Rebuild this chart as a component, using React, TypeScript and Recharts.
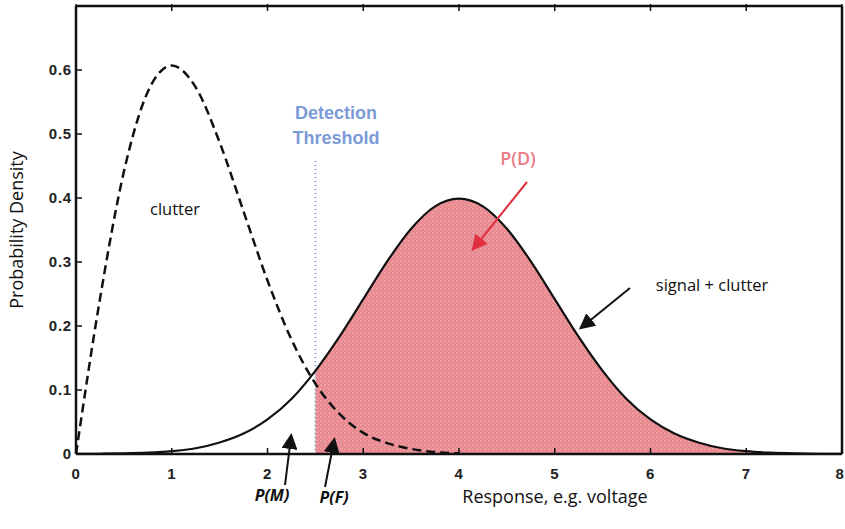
import {
  Area,
  ComposedChart,
  Line,
  ReferenceLine,
  XAxis,
  YAxis,
} from "recharts";

// response axis samples
const responses = [
  0, 0.25, 0.5, 0.75, 1, 1.25, 1.5, 1.75, 2, 2.25, 2.5, 2.75, 3, 3.25, 3.5, 3.75, 4,
  4.25, 4.5, 4.75, 5, 5.25, 5.5, 5.75, 6, 6.25, 6.5, 6.75, 7, 7.25, 7.5, 7.75, 8,
];
// clutter density (dashed)
const clutter = [
  0, 0.242, 0.441, 0.566, 0.607, 0.573, 0.487, 0.379, 0.271, 0.179, 0.11, 0.063, 0.033,
  0.017, 0.008, 0.003, 0.001, null, null, null, null, null, null, null, null, null, null,
  null, null, null, null, null, null,
];
// signal + clutter density (solid)
const signal = [
  0.0001, 0.0004, 0.0009, 0.002, 0.0044, 0.009, 0.018, 0.032, 0.054, 0.086, 0.13, 0.183,
  0.242, 0.301, 0.352, 0.387, 0.399, 0.387, 0.352, 0.301, 0.242, 0.183, 0.13, 0.086, 0.054,
  0.032, 0.018, 0.009, 0.0044, 0.002, 0.0009, 0.0004, 0.0001,
];
const threshold = 2.5;
const xTicks = [0, 1, 2, 3, 4, 5, 6, 7, 8];
const yTicks = [0, 0.1, 0.2, 0.3, 0.4, 0.5, 0.6];
const yTicksRight = [0, 0.1, 0.2, 0.3, 0.4, 0.5, 0.6, 0.7];
const yMax = 0.7;
const xMax = 8;

const data = responses.map((x, i) => ({
  x,
  clutter: clutter[i],
  signal: signal[i],
  pd: x >= threshold ? signal[i] : null,
}));

const tickFont = {
  fontFamily: "Liberation Sans, Arial, sans-serif",
  fontWeight: 700,
  fontSize: 15,
  letterSpacing: 0.8,
  fill: "#222",
};
const labelFont = "Open Sans, Lato, sans-serif";
const axisStroke = { stroke: "#111", strokeWidth: 2.5 };

const BottomTick = (p: any) => (
  <g>
    <line x1={p.x} x2={p.x} y1={p.y} y2={p.y - 6} stroke="#111" strokeWidth={1.5} />
    <text x={p.payload.value === 8 ? p.x - 2 : p.x} y={p.y + 25} textAnchor="middle" {...tickFont}>
      {p.payload.value}
    </text>
  </g>
);
const TopTick = (p: any) => (
  <line x1={p.x} x2={p.x} y1={p.y} y2={p.y + 7} stroke="#111" strokeWidth={1.5} />
);
const LeftTick = (p: any) => (
  <g>
    <line x1={p.x} x2={p.x + 6} y1={p.y} y2={p.y} stroke="#111" strokeWidth={1.5} />
    <text x={p.x - 4} y={p.y + 5} textAnchor="end" {...tickFont}>
      {p.payload.value}
    </text>
  </g>
);
const RightTick = (p: any) => (
  <line x1={p.x} x2={p.x - 7} y1={p.y} y2={p.y} stroke="#111" strokeWidth={1.5} />
);

export default function App() {
  return (
    <div style={{ position: "fixed", left: 0, top: 0, width: 845, height: 529, background: "#fff", overflow: "hidden" }}>
      <ComposedChart
        width={845}
        height={529}
        data={data}
        margin={{ top: 5, right: 2, bottom: 0, left: 0 }}
      >
        <defs>
          <pattern id="speckle" width="4" height="4" patternUnits="userSpaceOnUse">
            <rect width="4" height="4" fill="#e8878d" />
            <circle cx="1" cy="1" r="0.7" fill="#f6c6c9" />
            <circle cx="3" cy="3" r="0.6" fill="#f3b7bb" />
          </pattern>
        </defs>
        <XAxis
          dataKey="x"
          type="number"
          domain={[0, xMax]}
          ticks={xTicks}
          interval={0}
          tickLine={false}
          tickSize={0}
          tickMargin={0}
          tick={<BottomTick />}
          axisLine={axisStroke}
          height={75}
        />
        <XAxis
          xAxisId="top"
          orientation="top"
          dataKey="x"
          type="number"
          domain={[0, xMax]}
          ticks={xTicks}
          interval={0}
          tickLine={false}
          tickSize={0}
          tick={<TopTick />}
          axisLine={axisStroke}
          height={1}
        />
        <YAxis
          type="number"
          domain={[0, yMax]}
          ticks={yTicks}
          interval={0}
          tickLine={false}
          tickSize={0}
          tickMargin={0}
          tick={<LeftTick />}
          axisLine={axisStroke}
          width={76}
        />
        <YAxis
          yAxisId="right"
          orientation="right"
          type="number"
          domain={[0, yMax]}
          ticks={yTicksRight}
          interval={0}
          tickLine={false}
          tickSize={0}
          tick={<RightTick />}
          axisLine={axisStroke}
          width={1}
        />
        <Area
          dataKey="pd"
          type="monotone"
          stroke="none"
          fill="url(#speckle)"
          fillOpacity={1}
          connectNulls={false}
          isAnimationActive={false}
        />
        <ReferenceLine
          segment={[
            { x: threshold, y: 0 },
            { x: threshold, y: 0.46 },
          ]}
          stroke="#7f9bd6"
          strokeWidth={2}
          strokeDasharray="1 3"
        />
        <Line
          dataKey="clutter"
          type="monotone"
          stroke="#111"
          strokeWidth={2.5}
          strokeDasharray="9 5"
          dot={false}
          connectNulls={false}
          isAnimationActive={false}
        />
        <Line
          dataKey="signal"
          type="monotone"
          stroke="#111"
          strokeWidth={2.2}
          dot={false}
          isAnimationActive={false}
        />
      </ComposedChart>
      <svg
        width={845}
        height={529}
        style={{ position: "absolute", left: 0, top: 0, pointerEvents: "none" }}
      >
        <defs>
          <marker id="ahBlack" markerWidth="8" markerHeight="8" refX="6" refY="4" orient="auto">
            <path d="M0,0 L8,4 L0,8 z" fill="#111" />
          </marker>
          <marker id="ahRed" markerWidth="8" markerHeight="8" refX="6" refY="4" orient="auto">
            <path d="M0,0 L8,4 L0,8 z" fill="#e0303f" />
          </marker>
        </defs>
        <text
          x={18}
          y={230}
          transform="rotate(-90 18 230)"
          textAnchor="middle"
          dominantBaseline="middle"
          fontFamily={labelFont}
          fontSize={18}
          fill="#111"
        >
          Probability Density
        </text>
        <text x={555} y={503} textAnchor="middle" fontFamily={labelFont} fontSize={18} fill="#111">
          Response, e.g. voltage
        </text>
        <text x={175} y={215} textAnchor="middle" fontFamily={labelFont} fontSize={16.5} fill="#111">
          clutter
        </text>
        <text x={712} y={291} textAnchor="middle" fontFamily={labelFont} fontSize={16.5} fill="#111">
          signal + clutter
        </text>
        <text x={336} y={119} textAnchor="middle" fontFamily="Liberation Sans, Arial, sans-serif" fontWeight={700} fontSize={18} fill="#7b9bd8">
          Detection
        </text>
        <text x={336} y={144} textAnchor="middle" fontFamily="Liberation Sans, Arial, sans-serif" fontWeight={700} fontSize={18} fill="#7b9bd8">
          Threshold
        </text>
        <text x={518} y={165} textAnchor="middle" fontFamily={labelFont} fontWeight={600} fontSize={18} fill="#ea7a84">
          P(D)
        </text>
        <text x={272} y={501} textAnchor="middle" fontFamily={labelFont} fontWeight={700} fontStyle="italic" fontSize={16} fill="#111">
          P(M)
        </text>
        <text x={334} y={503} textAnchor="middle" fontFamily={labelFont} fontWeight={700} fontStyle="italic" fontSize={16} fill="#111">
          P(F)
        </text>
        <line x1={527} y1={182} x2={474} y2={248} stroke="#e0303f" strokeWidth={2} markerEnd="url(#ahRed)" />
        <line x1={630} y1={288} x2={582} y2={327} stroke="#111" strokeWidth={2} markerEnd="url(#ahBlack)" />
        <line x1={285} y1={485} x2={291} y2={437} stroke="#111" strokeWidth={2} markerEnd="url(#ahBlack)" />
        <line x1={325} y1={487} x2={334} y2={441} stroke="#111" strokeWidth={2} markerEnd="url(#ahBlack)" />
      </svg>
    </div>
  );
}
